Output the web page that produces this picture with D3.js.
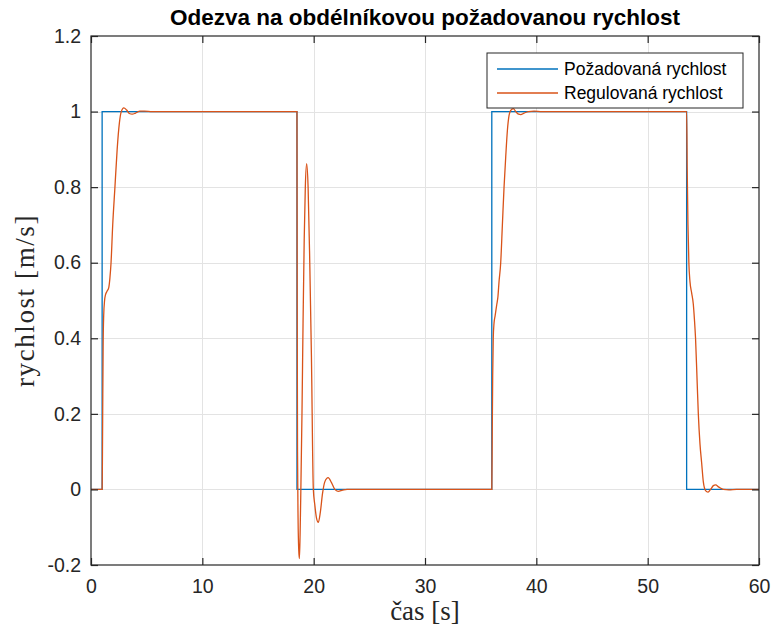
<!DOCTYPE html>
<html>
<head>
<meta charset="utf-8">
<script src="https://cdn.jsdelivr.net/npm/d3@7"></script>
<style>
  html, body { margin: 0; padding: 0; background: #fff; }
  svg { display: block; }
</style>
</head>
<body>
<svg id="chart" width="772" height="629"></svg>
<script>
// Axis ticks
const timeTicks = [0, 10, 20, 30, 40, 50, 60];
const speedTicks = [-0.2, 0, 0.2, 0.4, 0.6, 0.8, 1, 1.2];
const speedTickLabels = ["-0.2", "0", "0.2", "0.4", "0.6", "0.8", "1", "1.2"];

// Requested speed (square wave), time [s] and value [m/s]
const setpointTime  = [0, 1, 1, 18.5, 18.5, 36, 36, 53.5, 53.5, 60];
const setpointSpeed = [0, 0, 1, 1,    0,    0,  1,  1,    0,    0];

// Controlled speed, time [s]
const responseTime = [
  0, 1.0, 1.03, 1.06, 1.09, 1.14, 1.22, 1.3, 1.45, 1.6, 1.7, 1.8, 1.95, 2.15, 2.35, 2.55, 2.7,
  2.95, 3.2, 3.45, 3.7, 4.0, 4.4, 4.8, 5.5, 18.5,
  18.52, 18.55, 18.6, 18.66, 18.72, 18.78, 18.85, 18.95, 19.05, 19.15, 19.25, 19.37,
  19.5, 19.65, 19.8, 19.97, 20.1, 20.25, 20.42, 20.6, 20.8, 21.0, 21.3, 21.6, 21.9,
  22.2, 22.6, 23.0, 36.0,
  36.04, 36.08, 36.13, 36.2, 36.3, 36.45, 36.55, 36.65, 36.8, 36.95, 37.1, 37.25, 37.4,
  37.55, 37.7, 37.93, 38.15, 38.4, 38.6, 38.9, 39.3, 39.8, 40.5, 53.5,
  53.55, 53.62, 53.7, 53.8, 53.95, 54.1, 54.2, 54.3, 54.45, 54.55, 54.7, 54.85, 55.0,
  55.2, 55.42, 55.65, 55.9, 56.1, 56.4, 56.8, 57.3, 58.0, 60.0
];
// Controlled speed, value [m/s]
const responseSpeed = [
  0, 0, 0.1, 0.25, 0.38, 0.46, 0.5, 0.515, 0.525, 0.535, 0.56, 0.6, 0.7, 0.8, 0.9, 0.97, 0.998,
  1.01, 1.004, 0.995, 0.993, 0.996, 1.001, 1.001, 1.0, 1.0,
  0.5, 0.1, -0.08, -0.16, -0.183, -0.12, 0.0, 0.2, 0.45, 0.66, 0.8, 0.862,
  0.8, 0.6, 0.35, 0.0, -0.04, -0.075, -0.087, -0.06, -0.01, 0.02, 0.031, 0.018, 0.0,
  -0.005, -0.002, 0.0, 0.0,
  0.15, 0.3, 0.4, 0.44, 0.46, 0.49, 0.51, 0.55, 0.6, 0.7, 0.8, 0.88, 0.95,
  0.99, 1.003, 1.008, 1.0, 0.993, 0.992, 0.996, 1.0, 1.001, 1.0, 1.0,
  0.85, 0.7, 0.6, 0.55, 0.52, 0.49, 0.45, 0.4, 0.28, 0.2, 0.12, 0.07, 0.02,
  -0.003, -0.007, 0.0, 0.01, 0.012, 0.006, 0.0, -0.001, 0.0, 0.0
];

const seriesNames = ["Požadovaná rychlost", "Regulovaná rychlost"];
const seriesColors = ["#0072BD", "#D95319"];

const svg = d3.select("#chart");
const margin = { left: 91, right: 13, top: 36, bottom: 64 };
const W = 772, H = 629;
const x0 = margin.left, x1 = W - margin.right;
const y0 = H - margin.bottom, y1 = margin.top;

const x = d3.scaleLinear().domain([0, 60]).range([x0, x1]);
const y = d3.scaleLinear().domain([-0.2, 1.2]).range([y0, y1]);

const axisColor = "#262626";
const sans = "'Liberation Sans', Arial, Helvetica, sans-serif";
const serif = "'Liberation Serif', 'Times New Roman', serif";

// Grid
const grid = svg.append("g").attr("stroke", "#e3e3e3").attr("stroke-width", 1);
grid.selectAll("line.gx").data(timeTicks.slice(1, -1)).join("line")
  .attr("x1", d => Math.round(x(d)) + 0.5).attr("x2", d => Math.round(x(d)) + 0.5)
  .attr("y1", y1).attr("y2", y0);
grid.selectAll("line.gy").data(speedTicks.slice(1, -1)).join("line")
  .attr("y1", d => Math.round(y(d)) + 0.5).attr("y2", d => Math.round(y(d)) + 0.5)
  .attr("x1", x0).attr("x2", x1);

// Series
svg.append("clipPath").attr("id", "plotclip")
  .append("rect").attr("x", x0).attr("y", y1).attr("width", x1 - x0).attr("height", y0 - y1);

const setpoint = setpointTime.map((t, i) => [t, setpointSpeed[i]]);
const response = responseTime.map((t, i) => [t, responseSpeed[i]]);

const stepLine = d3.line().x(d => x(d[0])).y(d => y(d[1]));
const smoothLine = d3.line().x(d => x(d[0])).y(d => y(d[1])).curve(d3.curveMonotoneX);

const plot = svg.append("g").attr("clip-path", "url(#plotclip)");
plot.append("path").datum(setpoint)
  .attr("d", stepLine).attr("fill", "none")
  .attr("stroke", seriesColors[0]).attr("stroke-width", 1.3);
plot.append("path").datum(response)
  .attr("d", smoothLine).attr("fill", "none")
  .attr("stroke", seriesColors[1]).attr("stroke-width", 1.3);

// Axes (box with ticks pointing inward on all four sides)
const tickLen = 7;
const xAxisBottom = d3.axisBottom(x).tickValues(timeTicks).tickSize(-tickLen).tickPadding(10).tickFormat(d3.format("d"));
const xAxisTop = d3.axisTop(x).tickValues(timeTicks).tickSize(-tickLen).tickFormat("");
const yAxisLeft = d3.axisLeft(y).tickValues(speedTicks).tickSize(-tickLen).tickPadding(10)
  .tickFormat((d, i) => speedTickLabels[i]);
const yAxisRight = d3.axisRight(y).tickValues(speedTicks).tickSize(-tickLen).tickFormat("");

function styleAxis(g) {
  g.select(".domain").attr("stroke", axisColor).attr("stroke-width", 1.2);
  g.selectAll(".tick line").attr("stroke", axisColor).attr("stroke-width", 1.2);
  g.selectAll(".tick text").attr("fill", axisColor).attr("font-family", sans).attr("font-size", 19.5);
}

svg.append("g").attr("transform", `translate(0,${y0})`).call(xAxisBottom).call(styleAxis)
  .selectAll(".tick text").attr("dy", "0.93em");
svg.append("g").attr("transform", `translate(0,${y1})`).call(xAxisTop).call(styleAxis);
svg.append("g").attr("transform", `translate(${x0},0)`).call(yAxisLeft).call(styleAxis);
svg.append("g").attr("transform", `translate(${x1},0)`).call(yAxisRight).call(styleAxis);
svg.selectAll(".domain").attr("d", null);
svg.append("rect").attr("x", x0).attr("y", y1).attr("width", x1 - x0).attr("height", y0 - y1)
  .attr("fill", "none").attr("stroke", axisColor).attr("stroke-width", 1.2);

// Title and axis labels
svg.append("text").attr("x", (x0 + x1) / 2).attr("y", 25)
  .attr("text-anchor", "middle").attr("font-family", sans).attr("font-weight", "bold")
  .attr("font-size", 22.5).attr("fill", "#000")
  .text("Odezva na obdélníkovou požadovanou rychlost");

svg.append("text").attr("x", (x0 + x1) / 2).attr("y", 620)
  .attr("text-anchor", "middle").attr("font-family", serif)
  .attr("font-size", 27).attr("fill", axisColor)
  .text("čas [s]");

svg.append("text").attr("transform", `translate(34,${(y0 + y1) / 2}) rotate(-90)`)
  .attr("text-anchor", "middle").attr("font-family", serif)
  .attr("font-size", 27).attr("letter-spacing", 1.6).attr("fill", axisColor)
  .text("rychlost [m/s]");

// Legend
const lg = svg.append("g").attr("transform", "translate(487,53)");
lg.append("rect").attr("x", 0).attr("y", 0).attr("width", 256).attr("height", 55)
  .attr("fill", "#fff").attr("stroke", axisColor).attr("stroke-width", 1);
seriesNames.forEach((name, i) => {
  const yy = 16 + i * 24;
  lg.append("line").attr("x1", 10).attr("x2", 71).attr("y1", yy).attr("y2", yy)
    .attr("stroke", seriesColors[i]).attr("stroke-width", 1.3);
  lg.append("text").attr("x", 77).attr("y", yy).attr("dy", "0.35em")
    .attr("font-family", sans).attr("font-size", 17.5).attr("fill", "#000")
    .text(name);
});
</script>
</body>
</html>
